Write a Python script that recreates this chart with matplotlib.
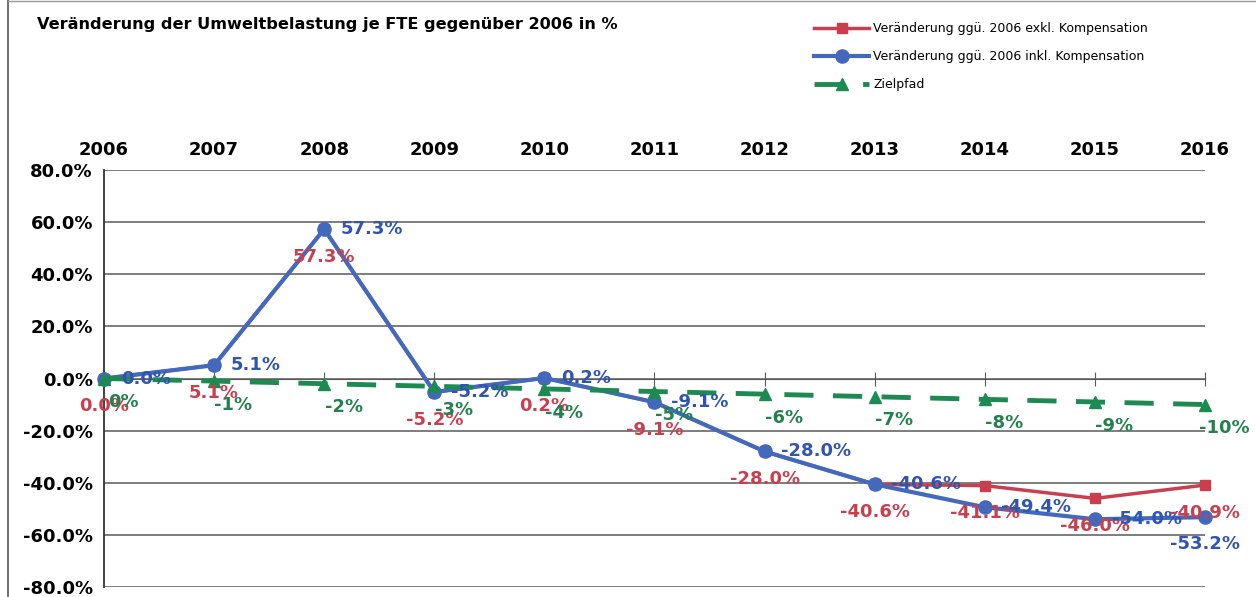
import matplotlib.pyplot as plt
from matplotlib.ticker import FuncFormatter
from matplotlib.lines import Line2D

# Daten
jahre = [2006, 2007, 2008, 2009, 2010, 2011, 2012, 2013, 2014, 2015, 2016]
exkl_kompensation = [0.0, 5.1, 57.3, -5.2, 0.2, -9.1, -28.0, -40.6, -41.1, -46.0, -40.9]
inkl_kompensation = [0.0, 5.1, 57.3, -5.2, 0.2, -9.1, -28.0, -40.6, -49.4, -54.0, -53.2]
zielpfad = [0, -1, -2, -3, -4, -5, -6, -7, -8, -9, -10]

rot = '#c8404f'
blau = '#4369bd'
gruen = '#1d8a52'
blau_text = '#2f55b0'
gruen_text = '#23804f'

plt.rcParams['font.family'] = ['DejaVu Sans']

fig = plt.figure(figsize=(12.56, 5.97), dpi=100)
ax = fig.add_axes([104 / 1256, 1 - 587 / 597, (1205 - 104) / 1256, (587 - 170) / 597])

# Linien
ax.plot(jahre, exkl_kompensation, color=rot, lw=2.5, marker='s', ms=7,
        label='Veränderung ggü. 2006 exkl. Kompensation', zorder=3, clip_on=False)
ax.plot(jahre, inkl_kompensation, color=blau, lw=3, marker='o', ms=9.5,
        label='Veränderung ggü. 2006 inkl. Kompensation', zorder=4, clip_on=False)
ax.plot(jahre, zielpfad, color=gruen, lw=3.5, marker='^', ms=8.5,
        dashes=(6, 4), label='Zielpfad', zorder=5, clip_on=False)

# Beschriftungen
for i, j in enumerate(jahre):
    ax.annotate(f'{exkl_kompensation[i]:.1f}%', (j, exkl_kompensation[i]),
                xytext=(0, -20), textcoords='offset points', ha='center', va='center',
                color=rot, fontsize=13, fontweight='bold', zorder=6)
    if j == 2016:
        off, ha = (0, -19), 'center'
    else:
        off, ha = (12, 0), 'left'
    ax.annotate(f'{inkl_kompensation[i]:.1f}%', (j, inkl_kompensation[i]),
                xytext=off, textcoords='offset points', ha=ha, va='center',
                color=blau_text, fontsize=13, fontweight='bold', zorder=6)
    ax.annotate(f'{zielpfad[i]}%', (j, zielpfad[i]),
                xytext=(14, -17), textcoords='offset points', ha='center', va='center',
                color=gruen_text, fontsize=13, fontweight='bold', zorder=6)

# Achsen
ax.set_xlim(2006, 2016)
ax.set_ylim(-80, 80)
ax.set_yticks(range(-80, 81, 20))
ax.yaxis.set_major_formatter(FuncFormatter(lambda v, p: f'{v:.1f}%'))
ax.set_xticks(jahre)
ax.set_xticklabels([str(j) for j in jahre])
ax.grid(axis='y', color='#5a5a5a', lw=1.1)
ax.set_axisbelow(True)

ax.spines['bottom'].set_position(('data', 0))
ax.spines['bottom'].set_color('#5a5a5a')
ax.spines['top'].set_visible(False)
ax.spines['right'].set_visible(False)
ax.spines['left'].set_color('#333333')
ax.spines['left'].set_linewidth(1.3)
ax.tick_params(axis='x', which='both', bottom=True, top=False, labelbottom=False,
               labeltop=True, direction='inout', length=10, color='#5a5a5a', pad=3,
               labelsize=13)
ax.tick_params(axis='y', length=0, pad=8, labelsize=13)
for lbl in ax.get_xticklabels() + ax.get_yticklabels():
    lbl.set_fontweight('bold')

# Titel
fig.text(37 / 1256, 1 - 24 / 597, 'Veränderung der Umweltbelastung je FTE gegenüber 2006 in %',
         fontsize=11.6, fontweight='bold', ha='left', va='center')

# Legende
fig.legend(loc='upper left', bbox_to_anchor=(814 / 1256, 1 - 22 / 597), frameon=False,
           fontsize=9, handlelength=4.4, handletextpad=0.35, labelspacing=1.2,
           borderpad=0, borderaxespad=0)

# Rahmen
fig.add_artist(Line2D([8 / 1256, 8 / 1256], [0, 1], color='#555555', lw=1.2))
fig.add_artist(Line2D([8 / 1256, 1], [0.998, 0.998], color='#999999', lw=1))

fig.savefig('out.png', dpi=100)
